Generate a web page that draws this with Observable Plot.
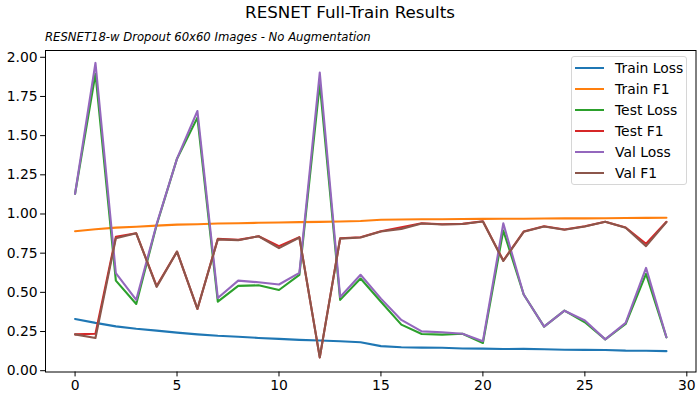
<!DOCTYPE html>
<html>
<head>
<meta charset="utf-8">
<script src="https://cdn.jsdelivr.net/npm/d3@7"></script>
<script src="https://cdn.jsdelivr.net/npm/@observablehq/plot@0.6"></script>
<style>
  body { margin: 0; background: #fff; font-family: "DejaVu Sans", sans-serif; }
  #wrap { position: relative; width: 700px; height: 400px; overflow: hidden; }
  #title { position: absolute; top: 2px; left: 0; width: 700px; text-align: center; font-size: 16.7px; color: #000; }
  #subtitle { position: absolute; top: 30px; left: 45px; font-size: 11.65px; font-style: italic; color: #000; white-space: nowrap; }
  #chart { position: absolute; top: 44px; left: 0; }
  #legend { position: absolute; left: 571px; top: 56px; width: 116px; height: 129px; border: 1px solid #d6d6d6; border-radius: 3px; background: rgba(255,255,255,0.8); box-sizing: border-box; }
  .row { position: absolute; left: 3px; height: 21px; display: flex; align-items: center; font-size: 13.9px; color: #000; white-space: nowrap; }
  .swatch { width: 29px; height: 2.1px; margin-right: 11px; }
</style>
</head>
<body>
<div id="wrap">
  <div id="title">RESNET Full-Train Results</div>
  <div id="subtitle">RESNET18-w Dropout 60x60 Images - No Augmentation</div>
  <div id="chart"></div>
  <div id="legend"></div>
</div>
<script>
const epochs = d3.range(30);
const trainLoss = [0.330,0.305,0.283,0.268,0.256,0.243,0.232,0.223,0.217,0.209,0.203,0.197,0.193,0.188,0.182,0.157,0.150,0.147,0.146,0.142,0.141,0.138,0.139,0.137,0.134,0.133,0.132,0.128,0.127,0.125];
const trainF1 = [0.890,0.903,0.913,0.919,0.926,0.932,0.935,0.939,0.941,0.944,0.946,0.948,0.950,0.952,0.955,0.963,0.965,0.966,0.966,0.968,0.969,0.970,0.970,0.971,0.972,0.972,0.973,0.974,0.975,0.976];
const testLoss = [1.129,1.895,0.575,0.426,0.930,1.353,1.615,0.441,0.541,0.545,0.515,0.611,1.832,0.452,0.588,0.440,0.294,0.234,0.230,0.236,0.177,0.895,0.486,0.281,0.383,0.309,0.200,0.298,0.618,0.213];
const testF1 = [0.232,0.236,0.855,0.877,0.540,0.760,0.394,0.841,0.835,0.858,0.795,0.852,0.085,0.845,0.852,0.890,0.916,0.941,0.935,0.937,0.954,0.703,0.888,0.922,0.901,0.922,0.950,0.914,0.810,0.950];
const valLoss = [1.129,1.964,0.622,0.452,0.935,1.353,1.657,0.464,0.575,0.564,0.550,0.624,1.902,0.470,0.612,0.460,0.324,0.251,0.245,0.236,0.188,0.940,0.486,0.281,0.383,0.320,0.200,0.305,0.656,0.213];
const valF1 = [0.232,0.209,0.845,0.877,0.535,0.760,0.394,0.838,0.833,0.858,0.782,0.850,0.085,0.843,0.850,0.888,0.905,0.939,0.933,0.936,0.952,0.700,0.886,0.920,0.900,0.920,0.950,0.912,0.795,0.948];

const seriesNames = ["Train Loss","Train F1","Test Loss","Test F1","Val Loss","Val F1"];
const seriesValues = [trainLoss, trainF1, testLoss, testF1, valLoss, valF1];
const seriesColors = ["#1f77b4","#ff7f0e","#2ca02c","#d62728","#9467bd","#8c564b"];
const xTicks = [0,5,10,15,20,25,30];
const yTicks = [0,0.25,0.5,0.75,1.0,1.25,1.5,1.75,2.0];

const rows = [];
seriesNames.forEach((name, s) => {
  seriesValues[s].forEach((v, i) => rows.push({series: name, epoch: epochs[i], value: v}));
});

const plot = Plot.plot({
  width: 700,
  height: 356,
  marginTop: 6,
  marginBottom: 28.5,
  marginLeft: 45,
  marginRight: 4.5,
  style: {fontFamily: "DejaVu Sans, sans-serif", fontSize: "13.9px", color: "#000", background: "transparent"},
  x: {domain: [-1.45, 30.45]},
  y: {domain: [-0.0083, 2.0433]},
  marks: [
    ...seriesNames.map((name, s) =>
      Plot.line(rows.filter(d => d.series === name), {x: "epoch", y: "value", stroke: seriesColors[s], strokeWidth: 2.1})
    ),
    Plot.frame({stroke: "#000", strokeWidth: 1}),
    Plot.axisX({ticks: xTicks, tickSize: 4.9, tickPadding: 3, label: null, stroke: "#000", tickFormat: d3.format("d")}),
    Plot.axisY({ticks: yTicks, tickSize: 4.9, tickPadding: 3, label: null, stroke: "#000", tickFormat: d3.format(".2f")})
  ]
});
document.getElementById("chart").appendChild(plot);

const legend = document.getElementById("legend");
seriesNames.forEach((name, s) => {
  const row = document.createElement("div");
  row.className = "row";
  row.style.top = (0.5 + s * 21) + "px";
  const sw = document.createElement("span");
  sw.className = "swatch";
  sw.style.background = seriesColors[s];
  row.appendChild(sw);
  row.appendChild(document.createTextNode(name));
  legend.appendChild(row);
});
</script>
</body>
</html>
